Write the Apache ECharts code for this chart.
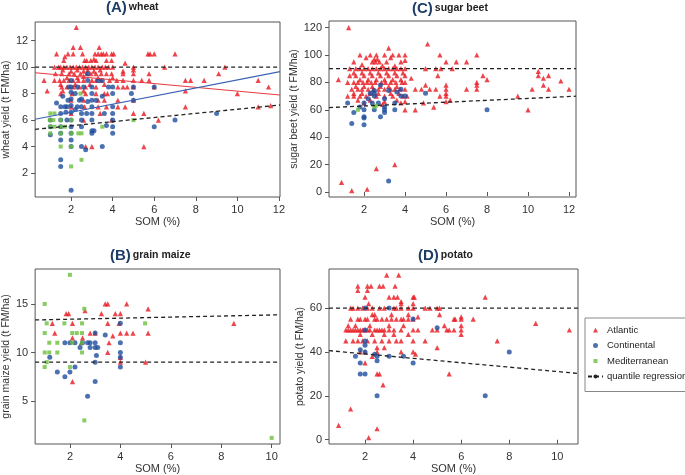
<!DOCTYPE html>
<html><head><meta charset="utf-8">
<script src="https://cdn.jsdelivr.net/npm/echarts@6/dist/echarts.min.js"></script>
<style>html,body{margin:0;padding:0;background:#fff}#c{width:685px;height:475px}</style>
</head><body><div id="c"></div>
<script>
// ---------- (A) wheat ----------
const wheatAtlantic = [[2.25,13],[2.1,11.5],[2.45,11.5],[3.35,11.5],
[1.3,11],[1.85,11],[2.1,11],[2.55,11],[3.15,11],[3.3,11],[3.45,11],[3.55,11],[3.7,11],[3.95,11],[4.05,11],[5.7,11],[5.8,11],[6.0,11],[7.0,11],
[1.7,10.8],[1.65,10.5],[2.65,10.5],[2.75,10.5],[2.95,10.5],[3.2,10.5],[3.7,10.5],[3.95,10.5],[3.1,10.6],[4.6,10.3],
[1.2,10],[1.4,10],[1.5,10],[1.65,10],[1.8,10],[1.95,10],[2.1,10],[2.25,10],[2.4,10],[2.55,10],[2.7,10],[2.85,10],[3.0,10],[3.15,10],[3.3,10],[3.5,10],[3.65,10],[3.8,10],[4.0,10],[5.0,10],[6.5,10],[9.4,10],
[1.6,9.8],[2.3,9.8],[2.8,9.8],[3.4,9.8],[4.5,9.7],[5.0,9.8],[2.0,9.7],[2.6,9.7],[3.1,9.7],
[1.25,9.5],[1.55,9.5],[1.9,9.5],[2.15,9.5],[2.45,9.5],[2.75,9.5],[2.95,9.5],[3.2,9.5],[3.45,9.5],[3.7,9.5],[3.95,9.5],[4.5,9.5],[5.0,9.5],[5.75,9.5],[9.1,9.5],
[1.8,9.2],[2.3,9.2],[2.6,9.3],[3.3,9.2],[4.0,9.2],
[0.7,9],[1.2,9],[1.45,9],[1.65,9],[1.9,9],[2.1,9],[2.35,9],[2.6,9],[3.0,9],[3.2,9],[3.45,9],[3.85,9],[4.2,9],[4.5,9],[5.0,9],[5.4,9],[5.75,9],[7.5,9],[7.75,9],[8.4,9],[11.0,9],
[1.5,8.7],[2.2,8.7],[2.9,8.7],[3.6,8.7],
[1.55,8.5],[1.8,8.5],[2.1,8.5],[2.4,8.5],[2.7,8.5],[3.2,8.5],[4.25,8.5],[4.5,8.5],[4.7,8.5],[5.0,8.5],[6.0,8.5],[11.5,8.5],
[0.85,8.2],[1.6,8.2],[7.5,8.2],[2.6,8.2],
[1.5,8],[2.05,8],[2.7,8],[3.2,8],[3.6,8],[3.75,8],[10.0,8],
[2.0,7.5],[2.6,7.5],[3.3,7.5],[3.6,7.5],[4.25,7.5],[5.0,7.5],
[2.0,7],[2.65,7],[3.3,7],[3.7,7],[4.25,7],[4.6,7],[7.5,7],[11.0,7],[11.6,7.1],
[2.0,6.5],[3.4,6.5],[5.0,6.5],[5.5,6.5],
[2.6,6],[3.95,6],[6.2,6],
[2.7,4],[3.0,4],[5.5,4]];
const wheatContinental = [[2.0,0.7],[1.5,2.5],[1.5,3],[1.5,4.5],[1.5,5],[1.5,5.5],[1.5,6],[1.5,6.5],[1.5,7],[1.0,4.9],[1.0,5.5],[1.0,6],[1.3,7.3],[1.6,7.8],[1.7,7],[1.8,6],[1.85,7.5],[1.9,8.5],
[2.0,4],[2.0,4.5],[2.0,5],[2.0,5.5],[2.0,6],[2.0,6.6],[2.0,7.1],[2.0,7.6],[2.0,8.1],[2.0,8.5],[2.0,9],[2.2,6.8],[2.2,8],[2.3,8.5],[2.4,7.5],
[2.5,4],[2.5,5.5],[2.5,6],[2.5,6.5],[2.5,7],[2.5,7.6],[2.6,8.5],[2.7,3.75],[2.75,6.5],[2.8,9.5],[2.8,7.4],
[3.0,5],[3.0,5.2],[3.0,6],[3.0,6.5],[3.0,7],[3.0,7.5],[3.0,8],[3.0,8.5],[3.1,5.2],[3.2,7.5],[3.3,9],[3.5,4],[3.5,7.8],[3.6,6.5],[3.7,5.6],[3.8,8.5],
[4.0,5],[4.0,5.5],[4.0,6],[4.0,6.5],[4.0,7],[4.0,8],[4.0,8.5],[4.9,8],[5.0,7.5],[5.0,8.5],[6.0,5.5],[6.0,8.5],[7.0,6],[9.0,6.5],[1.8,7],[2.3,7],[3.5,9],[2.8,9],[1.75,6.6]];
const wheatMediterranean = [[1.0,6.5],[1.2,6.5],[0.98,6],[1.15,6],[1.0,5.5],[1.2,5.5],[1.0,5],[1.5,6],[1.5,5.5],[1.5,5],[1.5,4],[1.7,5.5],[2.0,6],[2.0,5],[2.0,4],[2.0,2.5],[2.35,5],[2.5,5],[2.5,3],[2.45,8],[3.5,5.5],[5.0,6]];
const wheatQuantUpper = [[0.27,10],[12.05,10]];
const wheatQuantLower = [[0.27,5.3],[12.05,7.14]];
const wheatAtlanticFit = [[0.27,9.58],[12.05,7.9]];
const wheatContinentalFit = [[0.27,6.06],[12.05,9.66]];

// ---------- (C) sugar beet ----------
const beetAtlantic = [[1.25,120],[0.75,82],[0.9,7],[1.4,1],[2.15,2],[2.6,17],[3.5,20],
[3.2,105],[5.1,108],[5.7,100],[6.0,95],[6.5,95],[7.0,95],[7.5,100],[5.0,90],[5.5,90],[6.3,90],[5.75,90],
[4.3,83],[4.5,75],[4.8,75],[5.0,78],[5.2,75],[5.5,75],[5.6,85],[5.7,70],[6.0,75],[6.0,78],[6.0,72],[6.0,70],[6.0,66],[6.2,67],[5.4,62],[4.5,60],[4.0,60],[4.9,65],
[7.0,75],[7.5,75],[7.5,78],[7.5,80],[7.8,85],[8.0,82],[9.5,70],[10.0,60],[10.2,75],[10.5,88],[10.5,85],[10.75,83],[10.75,78],[11.0,85],[11.0,75],[11.6,81],[12.0,75],
[1.8,100],[2.3,100],[2.6,100],[3.0,100],[3.4,100],[3.7,100],[4.0,100],
[2.1,98],[2.5,97],[2.65,97],[3.3,98],[4.0,96],
[1.5,95],[2.4,95],[2.55,95],[2.75,95],[3.1,95],[3.8,95],
[1.9,93],[2.9,92],[3.5,92],
[1.3,90],[1.6,90],[1.8,90],[2.0,90],[2.2,90],[2.4,90],[2.6,90],[2.8,90],[3.0,90],[3.2,90],[3.4,90],[3.6,90],[3.8,90],[4.0,90],
[1.5,87],[1.9,87],[2.3,87],[2.7,87],[3.1,87],[3.5,87],[3.9,87],
[1.3,85],[1.6,85],[2.0,85],[2.4,85],[2.8,85],[3.2,85],[3.6,85],[4.0,85],
[1.8,82],[2.2,82],[2.6,82],[3.0,82],[3.4,82],[3.8,82],
[1.2,80],[1.5,80],[1.7,80],[1.95,80],[2.15,80],[2.35,80],[2.55,80],[2.85,80],[3.05,80],[3.3,80],[3.55,80],[3.85,80],[4.0,80],
[1.6,77],[2.0,77],[2.4,77],[2.8,77],[3.2,77],[3.6,77],
[1.4,75],[1.7,75],[1.9,75],[2.2,75],[2.45,75],[2.7,75],[3.0,75],[3.3,75],[3.5,75],[3.75,75],[4.0,75],
[1.5,72],[1.9,72],[2.3,72],[2.7,72],[3.3,72],[3.7,72],
[1.2,70],[1.5,70],[1.8,70],[2.1,70],[2.6,70],[3.0,70],[3.4,70],[3.9,70],[4.1,70],
[1.7,67],[2.3,67],[3.0,66],[3.6,67],[4.0,66],
[2.0,65],[2.9,64],[3.8,65]];
const beetContinental = [[1.2,65],[1.4,50],[1.5,58],[1.8,62],[2.0,60],[2.0,55],[2.0,54],[2.0,49],[2.0,65],[2.2,68],[2.4,65],[2.5,72],[2.5,70],[2.5,60],[2.7,65],[2.8,78],[2.8,55],[3.0,68],[3.0,62],[3.0,58],[3.0,60],[3.2,74],[3.2,8],[3.5,65],[3.5,60],[3.6,73],[3.8,75],[3.8,70],[4.0,70],[5.0,72],[8.0,60],[2.3,72],[2.5,74]];
const beetMediterranean = [[1.7,60],[2.6,63],[2.5,62]];
const beetQuantUpper = [[0.29,90],[12.34,90]];
const beetQuantLower = [[0.29,61.6],[12.34,69.9]];

// ---------- (B) grain maize ----------
const maizeAtlantic = [[1.3,13],[1.4,12],[1.85,14],[1.95,14],[2.1,13],[2.1,11.5],[2.1,7],[2.5,11.5],[2.45,11],[2.6,14.3],[2.8,12],[3.0,12],[3.25,14],[3.4,15],[3.5,15],[3.5,13],[3.5,10],[3.55,11],[3.7,11.7],[3.8,14],[3.95,13],[4.0,14],[4.0,12],[4.0,9.5],[4.0,9],[4.25,15],[4.25,12],[4.5,12],[5.0,9],[5.1,14.5],[5.1,12],[8.5,13]];
const maizeContinental = [[1.2,9.5],[1.5,8],[1.8,7.5],[1.8,11],[2.0,8],[2.0,11],[2.2,11],[2.2,8.5],[2.4,10.5],[2.5,11],[2.7,11],[2.7,5.5],[2.8,11],[2.8,10.5],[3.0,12],[3.0,11],[3.0,10.5],[3.0,9],[3.0,7],[3.05,9.7],[3.1,10.5],[3.4,11.8],[4.0,13],[4.0,11],[4.0,10],[4.0,9.5],[4.0,8.5]];
const maizeMediterranean = [[1.0,15],[2.0,18],[1.0,12],[1.0,10],[1.0,8.5],[1.08,13],[1.08,9],[1.18,11],[1.18,10],[1.5,11],[1.5,10],[1.78,13],[2.09,12],[2.09,11],[2.27,12],[2.48,13],[2.48,12],[2.48,11],[2.48,10],[2.57,14.5],[2.0,8.5],[2.57,3.0],[4.98,13],[10.0,1.2]];
const maizeQuantUpper = [[0.62,13.35],[10.33,13.88]];
const maizeQuantLower = [[0.62,9.0],[10.33,9.0]];

// ---------- (D) potato ----------
const potatoAtlantic = [[0.9,6.5],[1.4,14],[2.15,1],[2.5,5],[2.5,30],[2.6,30],[2.75,25],[5.5,30],[2.0,35],[2.5,40],[2.3,38],
[2.9,75],[3.4,75],[1.7,70],[1.7,68],[2.1,70],[2.25,70],[2.1,68],[2.6,70],[2.75,70],[3.25,70],[2.0,65],[2.15,62],[3.0,65],[3.2,65],[3.35,65],[3.5,63],[4.0,65],[4.05,65],[7.0,65],
[1.4,60],[1.5,60],[1.7,60],[1.9,60],[2.1,60],[2.3,60],[2.6,60],[2.8,60],[3.2,60],[3.3,60],[3.5,60],[3.8,60],[4.0,60],[4.5,60],[4.7,60],[5.0,60],[5.1,60],
[1.4,55],[1.7,55],[1.8,55],[2.0,55],[2.1,55],[2.4,55],[2.5,55],[2.7,55],[2.9,55],[3.1,55],[3.3,55],[3.5,55],[3.6,55],[3.8,55],[4.0,55],[5.7,55],[5.75,55],[6.0,55],[6.5,55],
[1.2,50],[1.3,50],[1.4,50],[1.5,50],[1.6,50],[1.7,50],[1.8,50],[1.9,50],[2.0,50],[2.1,50],[2.2,50],[2.4,50],[2.5,50],[2.6,50],[2.7,50],[2.8,50],[3.0,50],[3.2,50],[3.5,50],[4.0,50],[4.2,50],[4.8,50],[5.0,50],[5.4,50],[5.5,50],[5.7,50],[6.0,50],[9.1,53],[10.5,50],
[1.2,45],[1.5,45],[1.7,45],[1.9,45],[2.1,45],[2.4,45],[2.7,45],[3.0,45],[3.3,45],[3.5,45],[4.0,45],[4.5,45],[7.5,45],
[1.8,48],[2.3,48],[2.8,48],[3.2,48],[3.8,48],[6.0,48],
[2.5,42],[2.8,42],[5.0,42],
[1.8,40],[2.0,40],[3.5,40],[4.0,40],[4.1,39],
[1.3,52],[1.6,52],[2.2,52],[3.0,52],[3.6,52],[5.3,52],[6.0,52],
[2.3,57],[2.4,57],[3.1,57],[3.8,57],[5.1,57],[4.2,56],[6.0,56],
[3.5,62],[4.0,62]];
const potatoContinental = [[1.6,38],[1.8,41],[1.8,35],[1.8,30],[2.0,30],[2.0,40],[2.0,43],[2.0,45],[2.0,50],[2.0,60],[2.4,39],[2.5,38],[2.5,36],[2.5,20],[3.0,60],[3.0,38],[3.6,38],[4.0,55],[4.0,35],[5.0,51],[7.0,20],[8.0,40]];
const potatoQuantUpper = [[0.5,60],[10.86,60]];
const potatoQuantLower = [[0.5,40.6],[10.86,30.2]];

// ---------- axes ----------
const wheatX = [0.27,12.05], wheatY = [0.19,13.41];
const beetX = [0.29,12.34], beetY = [-3.65,124.8];
const maizeX = [0.62,10.33], maizeY = [0.57,18.6];
const potatoX = [0.5,10.86], potatoY = [-1.95,77.8];
const wheatXTicks = [2,4,6,8,10,12], wheatYTicks = [2,4,6,8,10,12];
const beetXTicks = [2,4,6,8,10,12], beetYTicks = [0,20,40,60,80,100,120];
const maizeXTicks = [2,4,6,8,10], maizeYTicks = [5,10,15];
const potatoXTicks = [2,4,6,8,10], potatoYTicks = [0,20,40,60];

const RED = '#e8161e', BLUE = '#1f4e9e', GREEN = '#6cbf3c';
const FONT = 'Liberation Sans, Arial, sans-serif';

const grids = [
  {left:31, top:22, width:249, height:175},
  {left:329, top:21, width:247, height:176},
  {left:32, top:269, width:248, height:175},
  {left:329, top:269, width:249, height:176}
];
const panelAxes = [
  {x:wheatX, y:wheatY, xt:wheatXTicks, yt:wheatYTicks, yname:'wheat yield (t FM/ha)', yGap:17},
  {x:beetX, y:beetY, xt:beetXTicks, yt:beetYTicks, yname:'sugar beet yield (t FM/ha)', yGap:23},
  {x:maizeX, y:maizeY, xt:maizeXTicks, yt:maizeYTicks, yname:'grain maize yield (t FM/ha)', yGap:18},
  {x:potatoX, y:potatoY, xt:potatoXTicks, yt:potatoYTicks, yname:'potato yield (t FM/ha)', yGap:21}
];
const labelStyle = {color:'#333', fontSize:11, fontFamily:FONT};
const xAxis = panelAxes.map((p,i)=>({
  type:'value', gridIndex:i, min:p.x[0], max:p.x[1],
  name:'SOM (%)', nameLocation:'middle', nameGap:19,
  nameTextStyle:{color:'#333', fontSize:11, fontFamily:FONT},
  axisLine:{show:false}, splitLine:{show:false},
  axisTick:{show:true, length:4, lineStyle:{color:'#555'}, customValues:p.xt},
  axisLabel:Object.assign({margin:7, customValues:p.xt}, labelStyle)
}));
const yAxis = panelAxes.map((p,i)=>({
  type:'value', gridIndex:i, min:p.y[0], max:p.y[1],
  name:p.yname, nameLocation:'middle', nameGap:p.yGap,
  nameTextStyle:{color:'#333', fontSize:10.5, fontFamily:FONT},
  axisLine:{show:false}, splitLine:{show:false},
  axisTick:{show:true, length:4, lineStyle:{color:'#555'}, customValues:p.yt},
  axisLabel:Object.assign({margin:7, customValues:p.yt}, labelStyle)
}));

function scat(name, data, i, sym, size, color){
  return {type:'scatter', name, data, xAxisIndex:i, yAxisIndex:i, symbol:sym, symbolSize:size,
    itemStyle:{color}, z:3};
}
function line(name, data, i, color, dashed){
  return {type:'line', name, data, xAxisIndex:i, yAxisIndex:i, symbol:'none', z:4,
    lineStyle:{color, width:dashed?1.3:1.1, type:dashed?[4,3]:'solid'}, itemStyle:{color}};
}
const TRI = 'triangle', CIR = 'circle', SQ = 'rect';
const TS = 5.2, CS = 5, SS = 4;
const series = [
  scat('Atlantic', wheatAtlantic, 0, TRI, TS, RED),
  scat('Continental', wheatContinental, 0, CIR, CS, BLUE),
  scat('Mediterranean', wheatMediterranean, 0, SQ, SS, GREEN),
  line('quantile regression', wheatQuantUpper, 0, '#222', true),
  line('quantile regression', wheatQuantLower, 0, '#222', true),
  line('Atlantic fit', wheatAtlanticFit, 0, '#e83a40', false),
  line('Continental fit', wheatContinentalFit, 0, '#3a62b4', false),
  scat('Atlantic', beetAtlantic, 1, TRI, TS, RED),
  scat('Continental', beetContinental, 1, CIR, CS, BLUE),
  scat('Mediterranean', beetMediterranean, 1, SQ, SS, GREEN),
  line('quantile regression', beetQuantUpper, 1, '#222', true),
  line('quantile regression', beetQuantLower, 1, '#222', true),
  scat('Atlantic', maizeAtlantic, 2, TRI, TS, RED),
  scat('Continental', maizeContinental, 2, CIR, CS, BLUE),
  scat('Mediterranean', maizeMediterranean, 2, SQ, SS, GREEN),
  line('quantile regression', maizeQuantUpper, 2, '#222', true),
  line('quantile regression', maizeQuantLower, 2, '#222', true),
  scat('Atlantic', potatoAtlantic, 3, TRI, TS, RED),
  scat('Continental', potatoContinental, 3, CIR, CS, BLUE),
  line('quantile regression', potatoQuantUpper, 3, '#222', true),
  line('quantile regression', potatoQuantLower, 3, '#222', true)
];

const titleRich = {
  a:{fontSize:15, fontWeight:'bold', color:'#1d3c66', fontFamily:FONT},
  b:{fontSize:10.5, color:'#222', fontFamily:FONT, padding:[0,0,0,2]}
};
function ttl(letter, crop, left, top){
  return {text:'{a|('+letter+')}{b|'+crop+'}', left, top, padding:0, textStyle:{rich:titleRich}};
}

// legend icons: a small mark centred inside a 15x5 frame (invisible corner dots keep the frame size)
const FRAME = 'M0,0 L0.01,0 L0,0.01 Z M15,5 L14.99,5 L15,4.99 Z ';
const ICON_TRI = 'path://' + FRAME + 'M5,5 L7.5,0.2 L10,5 Z';
const ICON_CIR = 'path://' + FRAME + 'M5,2.5 A2.5,2.5 0 1 1 10,2.5 A2.5,2.5 0 1 1 5,2.5 Z';
const ICON_SQ = 'path://' + FRAME + 'M5.5,0.5 L9.5,0.5 L9.5,4.5 L5.5,4.5 Z';

const chart = echarts.init(document.getElementById('c'), null, {renderer:'canvas'});
chart.setOption({
  animation:false,
  backgroundColor:'#fff',
  title:[ttl('A','wheat',106,0), ttl('C','sugar beet',412,1), ttl('B','grain maize',110,248), ttl('D','potato',418,248)],
  grid:grids.map(g=>Object.assign({show:true, borderColor:'#555', borderWidth:1, backgroundColor:'transparent'}, g)),
  xAxis, yAxis, series,
  legend:{
    data:[{name:'Atlantic', icon:ICON_TRI},{name:'Continental', icon:ICON_CIR},{name:'Mediterranean', icon:ICON_SQ},'quantile regression'],
    orient:'vertical', left:585, top:318, width:100,
    padding:[7,4,10,2], itemGap:5.5, itemWidth:15, itemHeight:5,
    borderColor:'#888', borderWidth:1, backgroundColor:'#fff',
    textStyle:{fontSize:9.5, color:'#222', fontFamily:FONT, padding:[0,0,0,-1]},
    selectedMode:false
  }
});
</script></body></html>
